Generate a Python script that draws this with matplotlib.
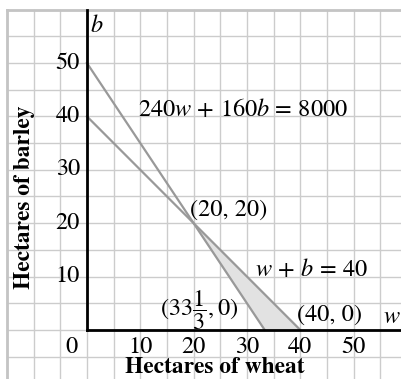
import numpy as np
import matplotlib.pyplot as plt

plt.rcParams['font.family'] = 'STIXGeneral'
plt.rcParams['mathtext.fontset'] = 'stix'

# constraint lines (intercepts)
land_w = [0, 40]
land_b = [40, 0]
cost_w = [0, 100 / 3]
cost_b = [50, 0]
# feasible region corners
region_w = [20, 100 / 3, 40]
region_b = [20, 0, 0]

x_ticks = [10, 20, 30, 40, 50]
y_ticks = [10, 20, 30, 40, 50]

fig = plt.figure(figsize=(4.01, 3.79), dpi=100)
ax = fig.add_axes([0, 0, 1, 1])
ax.set_xlim(-16.3, 58.9)
ax.set_ylim(-9.2, 61.8)
ax.axis('off')

# graph paper
for g in np.arange(-15, 60, 5):
    ax.plot([g, g], [-20, 60], color='#cccccc', lw=1, zorder=0)
for g in np.arange(-10, 65, 5):
    ax.plot([-15, 70], [g, g], color='#cccccc', lw=1, zorder=0)
ax.plot([-15, -15], [-20, 60], color='#c4c4c4', lw=2, zorder=0)
ax.plot([-15, 70], [60, 60], color='#c4c4c4', lw=2, zorder=0)

ax.fill(region_w, region_b, color='#e2e2e2', zorder=1)
ax.plot(land_w, land_b, color='#999999', lw=1.6, zorder=2)
ax.plot(cost_w, cost_b, color='#999999', lw=1.6, zorder=2)

# axes
ax.plot([0, 70], [0, 0], color='black', lw=2, zorder=3)
ax.plot([0, 0], [0, 60], color='black', lw=2, zorder=3)

fs = 17.5
for t in x_ticks:
    ax.text(t, -3.2, str(t), ha='center', va='center', fontsize=fs)
for t in y_ticks:
    ax.text(-1.3, t, str(t), ha='right', va='center', fontsize=fs)
ax.text(-2.8, -3.2, '0', ha='center', va='center', fontsize=fs)
ax.text(1.8, 57, '$b$', ha='center', va='center', fontsize=fs)
ax.text(57.2, 2.4, '$w$', ha='center', va='center', fontsize=fs)

ax.text(9.6, 41.2, r'$240w\,+\,160b\,=\,8000$', ha='left', va='center', fontsize=fs)
ax.text(19.3, 22.5, '(20, 20)', ha='left', va='center', fontsize=fs)
ax.text(31.5, 11.25, r'$w\,+\,b\,=\,40$', ha='left', va='center', fontsize=fs)
ax.text(13.7, 3.6, r'$(33\dfrac{1}{3}, 0)$', ha='left', va='center', fontsize=fs)
ax.text(39.4, 2.8, '(40, 0)', ha='left', va='center', fontsize=fs)

ax.text(24, -7.1, 'Hectares of wheat', ha='center', va='center',
        fontsize=16.8, fontweight='bold')
ax.text(-11.7, 24.8, 'Hectares of barley', ha='center', va='center',
        fontsize=16.8, fontweight='bold', rotation=90)

fig.savefig('out.png', dpi=100)
